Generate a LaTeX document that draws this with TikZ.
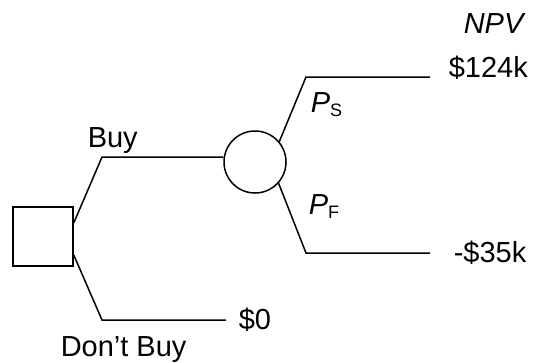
\documentclass[tikz,border=0pt]{standalone}
\usepackage{fontspec}
\setmainfont{Liberation Sans}
\begin{document}
\begin{tikzpicture}[x=1pt,y=-1pt,
  line width=1.5pt,
  lbl/.style={anchor=base west,inner sep=0pt,font=\fontsize{29}{34}\selectfont},
  decbox/.style={draw,rectangle,minimum width=60pt,minimum height=59pt,inner sep=0pt},
  chancenode/.style={draw,circle,minimum size=62pt,inner sep=0pt}]
\newcommand{\subtxt}[1]{\raisebox{-4pt}{\fontsize{18}{18}\selectfont #1}}
\useasboundingbox (0,0) rectangle (533,362);
\node[decbox] (dec) at (43,236.5) {};
\node[chancenode] (chance) at (255,162) {};
\coordinate (b1) at (102,157);
\coordinate (b2) at (102,320);
\coordinate (e2) at (226,320);
\coordinate (c1) at (306,77);
\coordinate (d1) at (430,77);
\coordinate (c2) at (306,253);
\coordinate (d2) at (430,253);
\draw ([yshift=13.5pt]dec.east) -- (b1) -- (b1 -| chance.west);
\draw ([yshift=-18.5pt]dec.east) -- (b2) -- (e2);
\draw (chance.40) -- (c1) -- (d1);
\draw (chance.-42) -- (c2) -- (d2);
\node[lbl] (npv) at (463,33) {\itshape NPV};
\node[lbl] (v1) at (448,77) {\$124k};
\node[lbl] (v2) at (453,262) {-\$35k};
\node[lbl] (v3) at (238,329) {\$0};
\node[lbl] (buy) at (87,147) {Buy};
\node[lbl] (dbuy) at (60,356) {Don’t Buy};
\node[lbl] (ps) at (310,112) {\textit{P}\subtxt{S}};
\node[lbl] (pf) at (308,214) {\textit{P}\subtxt{F}};
\end{tikzpicture}
\end{document}
